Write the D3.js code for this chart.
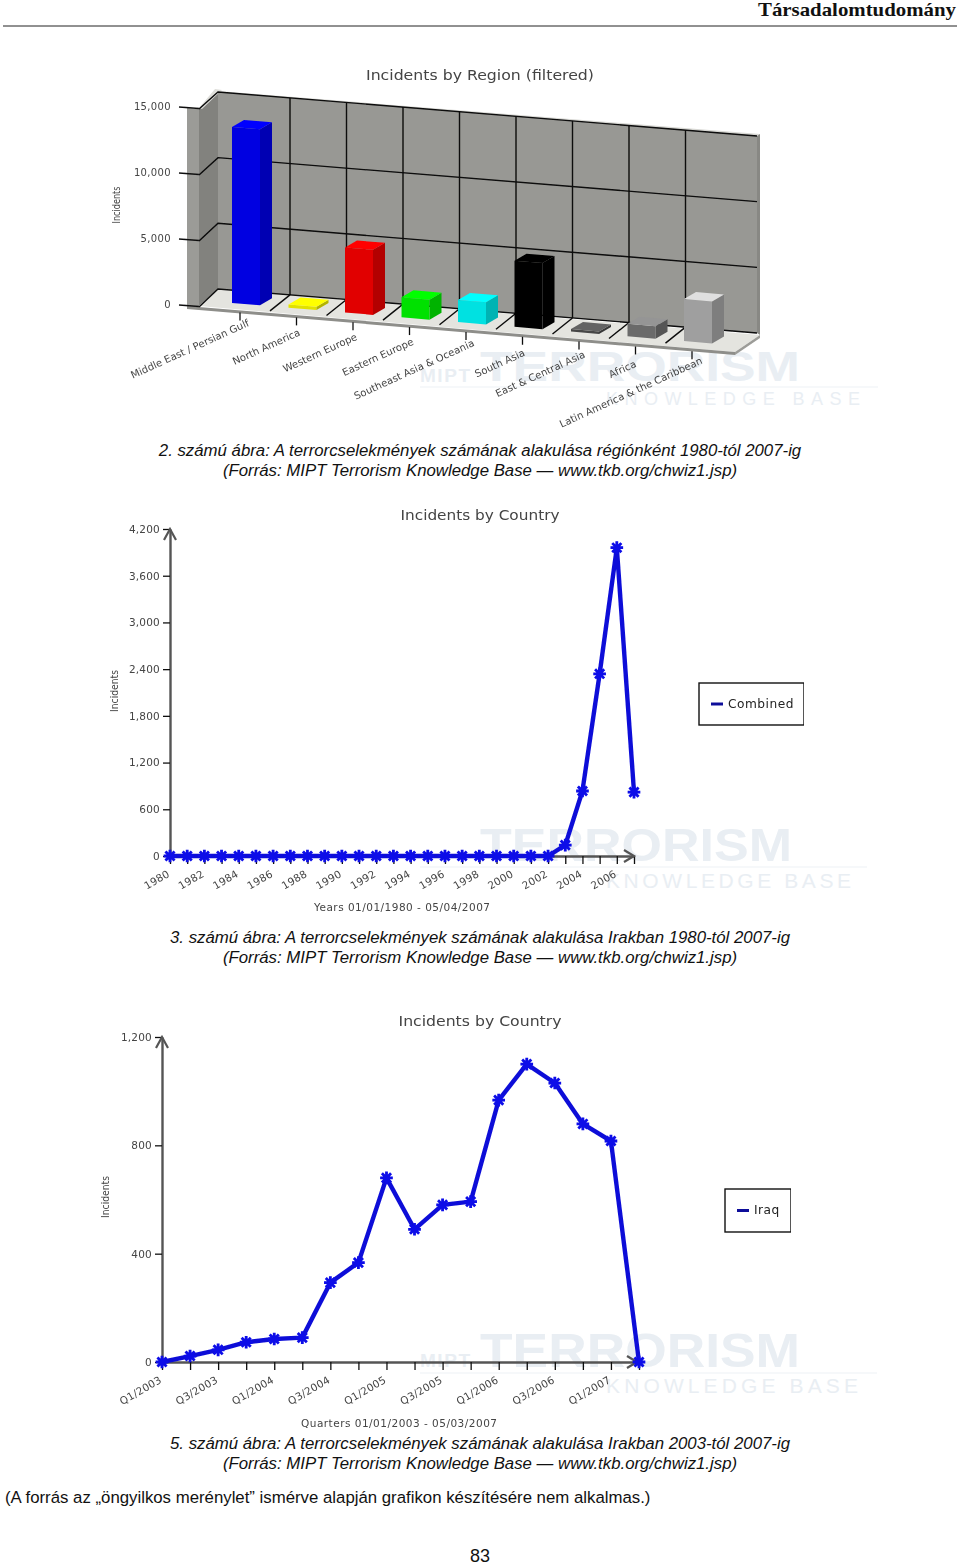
<!DOCTYPE html>
<html>
<head>
<meta charset="utf-8">
<title>Incidents</title>
<script src="https://cdn.jsdelivr.net/npm/d3@7"></script>
<style>
  body { margin: 0; background: #fff; }
  svg { display: block; }
  .chart text { font-family: "DejaVu Sans", sans-serif; fill: #444; }
  .caption { font-family: "Liberation Sans", sans-serif; font-size: 16.8px; font-style: italic; fill: #111; text-anchor: middle; }
</style>
</head>
<body>
<svg id="page" width="960" height="1565" viewBox="0 0 960 1565">
  <defs><filter id="soft" x="0" y="0" width="100%" height="100%"><feGaussianBlur stdDeviation="0.35"/></filter></defs>
</svg>
<script>
// data
const regions = ["Middle East / Persian Gulf", "North America", "Western Europe", "Eastern Europe",
  "Southeast Asia & Oceania", "South Asia", "East & Central Asia", "Africa", "Latin America & the Caribbean"];
const regionIncidents = [13400, 250, 4950, 1520, 1680, 5030, 190, 950, 3200];
const regionTicks = [0, 5000, 10000, 15000];

const years = [1980, 1981, 1982, 1983, 1984, 1985, 1986, 1987, 1988, 1989, 1990, 1991, 1992, 1993,
  1994, 1995, 1996, 1997, 1998, 1999, 2000, 2001, 2002, 2003, 2004, 2005, 2006, 2007];
const combinedIncidents = [0, 0, 0, 0, 0, 0, 0, 0, 0, 0, 0, 0, 0, 0,
  0, 0, 0, 0, 0, 0, 0, 0, 0, 140, 835, 2340, 3960, 820];
const yearLabels = [1980, 1982, 1984, 1986, 1988, 1990, 1992, 1994, 1996, 1998, 2000, 2002, 2004, 2006];
const combinedTicks = [0, 600, 1200, 1800, 2400, 3000, 3600, 4200];

const quarters = ["Q1/2003", "Q2/2003", "Q3/2003", "Q4/2003", "Q1/2004", "Q2/2004", "Q3/2004", "Q4/2004", "Q1/2005",
  "Q2/2005", "Q3/2005", "Q4/2005", "Q1/2006", "Q2/2006", "Q3/2006", "Q4/2006", "Q1/2007", "Q2/2007"];
const iraqIncidents = [0, 22, 45, 73, 85, 90, 293, 367, 680, 490, 580, 592, 967, 1100, 1030, 879, 816, 0];
const quarterLabels = ["Q1/2003", "Q3/2003", "Q1/2004", "Q3/2004", "Q1/2005", "Q3/2005", "Q1/2006", "Q3/2006", "Q1/2007"];
const iraqTicks = [0, 400, 800, 1200];

const captions = [
  "2. számú ábra: A terrorcselekmények számának alakulása régiónként 1980-tól 2007-ig",
  "3. számú ábra: A terrorcselekmények számának alakulása Irakban 1980-tól 2007-ig",
  "5. számú ábra: A terrorcselekmények számának alakulása Irakban 2003-tól 2007-ig"
];
const source = "(Forrás: MIPT Terrorism Knowledge Base — www.tkb.org/chwiz1.jsp)";

const svg = d3.select("#page");
const poly = (g, pts, fill) => g.append("polygon").attr("points", pts.map(p => p.join(",")).join(" ")).attr("fill", fill);

// page furniture ------------------------------
svg.append("text").attr("x", 956).attr("y", 16).attr("text-anchor", "end")
  .attr("font-family", "Liberation Serif").attr("font-weight", "bold").attr("font-size", 19)
  .attr("textLength", 198).attr("lengthAdjust", "spacingAndGlyphs").attr("fill", "#111").text("Társadalomtudomány");
svg.append("line").attr("x1", 3).attr("x2", 957).attr("y1", 26).attr("y2", 26).attr("stroke", "#222");

[[456, 476], [943, 963], [1449, 1469]].forEach((ys, i) => {
  svg.append("text").attr("class", "caption").attr("x", 480).attr("y", ys[0]).text(captions[i]);
  svg.append("text").attr("class", "caption").attr("x", 480).attr("y", ys[1]).text(source);
});
svg.append("text").attr("x", 5).attr("y", 1503).attr("font-family", "Liberation Sans").attr("font-size", 16.8).attr("fill", "#111")
  .text("(A forrás az „öngyilkos merénylet” ismérve alapján grafikon készítésére nem alkalmas.)");
svg.append("text").attr("x", 480).attr("y", 1562).attr("text-anchor", "middle").attr("font-family", "Liberation Sans")
  .attr("font-size", 18).attr("fill", "#111").text("83");

// faint logo behind every chart
function watermark(w) {
  const g = svg.append("g").attr("fill", "#e9eef3").attr("font-family", "Liberation Sans");
  g.append("text").attr("x", 480).attr("y", w.base).attr("font-size", w.size).attr("font-weight", "bold")
    .attr("textLength", w.width).attr("lengthAdjust", "spacingAndGlyphs").text("TERRORISM");
  g.append("line").attr("x1", 420).attr("x2", w.lineEnd).attr("y1", w.lineY).attr("y2", w.lineY).attr("stroke", "#edf1f5");
  g.append("text").attr("x", 606).attr("y", w.subBase).attr("font-size", w.subSize)
    .attr("textLength", w.subWidth).text("KNOWLEDGE BASE");
  if (w.mipt) {
    g.append("text").attr("x", 420).attr("y", w.mipt).attr("font-size", 19).attr("font-weight", "bold")
      .attr("textLength", 50).text("MIPT");
  }
}
watermark({ base: 381, size: 43, width: 320, lineY: 387, lineEnd: 878, subBase: 405, subSize: 18, subWidth: 254, mipt: 382 });
watermark({ base: 861, size: 47, width: 312, lineY: 867, lineEnd: 867, subBase: 888, subSize: 21, subWidth: 245 });
watermark({ base: 1367, size: 49, width: 320, lineY: 1373, lineEnd: 877, subBase: 1393, subSize: 21, subWidth: 252, mipt: 1367 });

// chart 1: 3D bars ----------------------------
function regionChart() {
  const g = svg.append("g").attr("class", "chart").attr("filter", "url(#soft)");
  const wallL = 218, wallR = 757, frontL = 199, frontR = 735;

  const yFront = d3.scaleLinear().domain([0, 15000]).range([306, 108]);
  const height = d3.scaleLinear().domain([0, 15000]).range([0, 197]);
  const wallBase = d3.scaleLinear().domain([wallL, wallR]).range([289, 333]);
  const frontBase = d3.scaleLinear().domain([frontL, frontR]).range([306, 352]);
  const barBase = d3.scaleLinear().domain([232, 683]).range([303, 341]);
  const x = d3.scalePoint().domain(regions).range([240, 692]);
  const barColor = d3.scaleOrdinal().domain(regions)
    .range(["#0000ff", "#ffff00", "#ff0000", "#00ff00", "#00ffff", "#000000", "#505050", "#787878", "#b4b4b4"]);
  const top = height(15000);

  // walls and floor
  poly(g, [[187, yFront(15000)], [frontL, yFront(15000) + 1], [frontL, frontBase(frontL) + 2], [187, frontBase(frontL)]], "#9b9b97");
  poly(g, [[frontL, yFront(15000) + 1], [wallL, wallBase(wallL) - top], [wallL, wallBase(wallL)], [frontL, frontBase(frontL)]], "#82827e");
  poly(g, [[frontL, yFront(15000)], [wallL - 3, wallBase(wallL) - top - 3], [wallL + 4, wallBase(wallL) - top - 2], [frontL + 3, yFront(15000) + 1]], "#dededa");
  poly(g, [[wallL, wallBase(wallL) - top - 1], [wallR + 3, wallBase(wallR) - top - 2], [wallR, wallBase(wallR) - top], [wallL, wallBase(wallL) - top]], "#d8d8d4");
  poly(g, [[wallL, wallBase(wallL) - top], [wallR, wallBase(wallR) - top], [wallR, wallBase(wallR)], [wallL, wallBase(wallL)]], "#989894");
  poly(g, [[wallR, wallBase(wallR) - top], [wallR + 3, wallBase(wallR) - top - 2], [wallR + 3, wallBase(wallR) + 2], [wallR, wallBase(wallR)]], "#888884");
  poly(g, [[frontL, frontBase(frontL)], [wallL, wallBase(wallL)], [wallR + 3, wallBase(wallR) + 2], [frontR, frontBase(frontR)]], "#e4e4df");
  poly(g, [[frontL - 12, frontBase(frontL)], [frontR, frontBase(frontR)], [frontR, frontBase(frontR) + 3], [frontL - 12, frontBase(frontL) + 3]], "#8e8e8a");
  poly(g, [[frontR, frontBase(frontR)], [wallR + 3, wallBase(wallR) + 2], [wallR + 3, wallBase(wallR) + 5], [frontR, frontBase(frontR) + 3]], "#9c9c98");

  // grid
  const grid = g.append("g").attr("stroke", "#0a0a0a").attr("stroke-width", 1.4).attr("fill", "none");
  regionTicks.forEach(t => {
    grid.append("path").attr("d", d3.line()([[frontL, yFront(t) + 1], [wallL, wallBase(wallL) - height(t)], [wallR, wallBase(wallR) - height(t)]]));
  });
  regions.slice(0, -1).forEach(r => {
    const gx = x(r) + 50;
    grid.append("line").attr("x1", gx).attr("x2", gx).attr("y1", wallBase(gx) - top).attr("y2", wallBase(gx));
    grid.append("line").attr("x1", gx).attr("x2", gx - 20).attr("y1", wallBase(gx)).attr("y2", wallBase(gx) + 16);
  });

  // bars
  const depthX = 12, depthY = -7, barW = 28;
  regions.forEach((r, i) => {
    const x0 = x(r) - 8, x1 = x0 + barW;
    const b0 = barBase(x0), b1 = barBase(x1), h = height(regionIncidents[i]);
    const base = d3.rgb(barColor(r));
    poly(g, [[x0, b0], [x1, b1], [x1, b1 - h], [x0, b0 - h]], base.darker(0.35));
    poly(g, [[x1, b1], [x1 + depthX, b1 + depthY], [x1 + depthX, b1 + depthY - h], [x1, b1 - h]], base.darker(1));
    poly(g, [[x0, b0 - h], [x1, b1 - h], [x1 + depthX, b1 + depthY - h], [x0 + depthX, b0 + depthY - h]], base.brighter(0.6));
  });

  // axes
  const yAxis = g.append("g").attr("transform", `translate(${frontL},0)`)
    .call(d3.axisLeft(yFront).tickValues(regionTicks).tickFormat(d3.format(",")).tickSize(20).tickPadding(8));
  yAxis.select(".domain").remove();
  yAxis.selectAll("line").attr("stroke", "#111").attr("stroke-width", 1.3).attr("y2", -1.5);
  yAxis.selectAll("text").attr("font-size", 10).attr("letter-spacing", 0.35).attr("dy", "0.12em");

  const xAxis = g.append("g").call(d3.axisBottom(x).tickSize(8).tickSizeOuter(0));
  xAxis.select(".domain").remove();
  xAxis.selectAll(".tick").attr("transform", d => `translate(${x(d)},${frontBase(x(d)) + 3})`);
  xAxis.selectAll("line").attr("stroke", "#111").attr("stroke-width", 1.3);
  xAxis.selectAll("text").attr("font-size", 10.1).attr("text-anchor", "end").attr("dy", 0)
    .attr("y", 0).attr("x", 0)
    .attr("transform", d => `translate(${0.42 * d.length - 1},${22 - 0.35 * d.length}) rotate(-24.5)`);

  g.append("text").attr("x", 480).attr("y", 80).attr("text-anchor", "middle").attr("font-size", 14.5)
    .attr("textLength", 228).attr("lengthAdjust", "spacingAndGlyphs").text("Incidents by Region (filtered)");
  g.append("text").attr("transform", "translate(120,205) rotate(-90)").attr("text-anchor", "middle").attr("font-size", 10)
    .attr("textLength", 37).attr("lengthAdjust", "spacingAndGlyphs").text("Incidents");
}

// charts 2 and 3: line with star markers ------
const star = {
  draw(ctx, size) {
    const r = Math.sqrt(size), d = r * 0.72;
    ctx.moveTo(-r, 0); ctx.lineTo(r, 0);
    ctx.moveTo(0, -r); ctx.lineTo(0, r);
    ctx.moveTo(-d, -d); ctx.lineTo(d, d);
    ctx.moveTo(-d, d); ctx.lineTo(d, -d);
  }
};

function lineChart(o) {
  const g = svg.append("g").attr("class", "chart").attr("filter", "url(#soft)");
  const x = d3.scalePoint().domain(o.cats).range(o.xRange);
  const y = d3.scaleLinear().domain([0, o.yMax]).range(o.yRange);

  const xAxis = g.append("g").attr("transform", `translate(0,${o.yRange[0]})`)
    .call(d3.axisBottom(x).tickSizeInner(8).tickSizeOuter(0).tickFormat(d => o.labels.includes(d) ? d : ""));
  xAxis.select(".domain").attr("stroke", "#555").attr("stroke-width", 2.4);
  xAxis.selectAll("line").attr("stroke", "#111").attr("stroke-width", 1.3);
  xAxis.selectAll("text").attr("font-size", 10.4).attr("letter-spacing", 0.25).attr("text-anchor", "end")
    .attr("dy", 0).attr("x", 0).attr("y", 0).attr("transform", "translate(0,20) rotate(-30)");

  const yAxis = g.append("g").attr("transform", `translate(${o.xRange[0]},0)`)
    .call(d3.axisLeft(y).tickValues(o.ticks).tickFormat(d3.format(",")).tickSizeInner(7).tickSizeOuter(0).tickPadding(3));
  yAxis.select(".domain").attr("stroke", "#555").attr("stroke-width", 2.4);
  yAxis.selectAll("line").attr("stroke", "#111").attr("stroke-width", 1.3);
  yAxis.selectAll("text").attr("font-size", 10.5).attr("letter-spacing", 0.2);

  // arrow heads
  const ax = o.xRange[0], ay = o.yRange[1], rx = o.arrowX, ry = o.yRange[0];
  const arrows = d3.line();
  g.append("path").attr("fill", "none").attr("stroke", "#555").attr("stroke-width", 2.2)
    .attr("d", arrows([[ax - 6, ay + 11], [ax, ay], [ax + 6, ay + 11]]) + arrows([[rx - 10, ry - 6], [rx, ry], [rx - 10, ry + 6]]));

  const line = d3.line().x((d, i) => x(o.cats[i])).y(d => y(d));
  g.append("path").datum(o.values).attr("d", line).attr("fill", "none")
    .attr("stroke", "#1010d8").attr("stroke-width", 4.4).attr("stroke-linejoin", "round");
  g.selectAll(".mark").data(o.values).join("path").attr("class", "mark")
    .attr("transform", (d, i) => `translate(${x(o.cats[i])},${y(d)})`)
    .attr("d", d3.symbol().type(star).size(40))
    .attr("fill", "none").attr("stroke", "#0808e8").attr("stroke-width", 2.8);

  g.append("text").attr("x", 480).attr("y", o.titleY).attr("text-anchor", "middle").attr("font-size", 14.5)
    .attr("textLength", o.titleW).attr("lengthAdjust", "spacingAndGlyphs").text("Incidents by Country");
  g.append("text").attr("transform", `translate(${o.yTitle[0]},${o.yTitle[1]}) rotate(-90)`).attr("text-anchor", "middle")
    .attr("font-size", 10).attr("textLength", 42).attr("lengthAdjust", "spacingAndGlyphs").text("Incidents");
  g.append("text").attr("x", o.xTitle[0]).attr("y", o.xTitle[1]).attr("text-anchor", "middle").attr("font-size", 10.5)
    .attr("textLength", o.xTitle[2]).text(o.xName);

  // legend
  const [lx, ly, lw, lh] = o.legend;
  g.append("rect").attr("x", lx).attr("y", ly).attr("width", lw).attr("height", lh).attr("fill", "#fff")
    .attr("stroke", "#111").attr("stroke-width", 1.4);
  g.append("line").attr("x1", lx + 12).attr("x2", lx + 24).attr("y1", ly + lh / 2).attr("y2", ly + lh / 2)
    .attr("stroke", "#10109a").attr("stroke-width", 3);
  g.append("text").attr("x", lx + 29).attr("y", ly + lh / 2 + 3.5).attr("font-size", 12.2).attr("letter-spacing", 0.5)
    .style("fill", "#222").text(o.series);
}

regionChart();
lineChart({
  cats: years, values: combinedIncidents, labels: yearLabels, ticks: combinedTicks, yMax: 4200,
  xRange: [170, 634], yRange: [856, 529], arrowX: 634,
  titleY: 520, titleW: 159, yTitle: [118, 691], xTitle: [402, 911, 176],
  xName: "Years 01/01/1980 - 05/04/2007", series: "Combined", legend: [699, 683, 105, 42]
});
lineChart({
  cats: quarters, values: iraqIncidents, labels: quarterLabels, ticks: iraqTicks, yMax: 1200,
  xRange: [162, 639], yRange: [1362, 1037], arrowX: 637,
  titleY: 1026, titleW: 163, yTitle: [109, 1197], xTitle: [399, 1427, 196],
  xName: "Quarters 01/01/2003 - 05/03/2007", series: "Iraq", legend: [725, 1189, 66, 43]
});
</script>
</body>
</html>
